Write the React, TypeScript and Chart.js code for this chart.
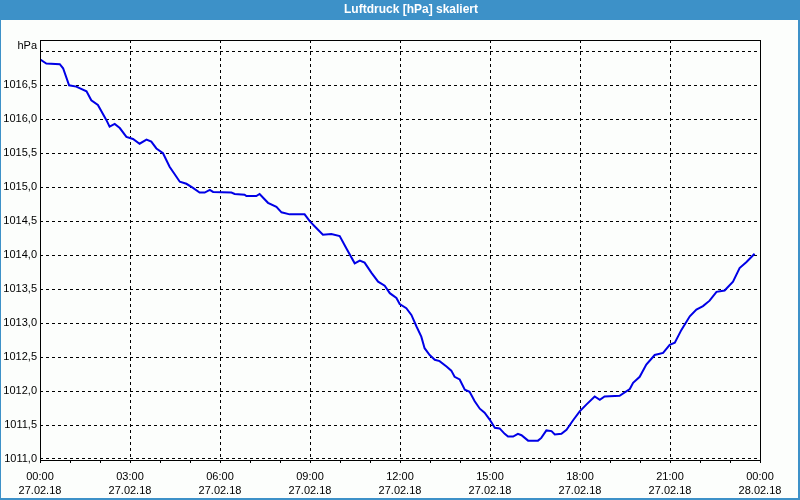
import React, { useEffect, useRef } from "react";
import { Chart, registerables } from "chart.js";

Chart.register(...registerables);

const chartTitle = "Luftdruck [hPa] skaliert";
const yUnit = "hPa";

// time in hours since 27.02.18 00:00
const hours = [
  0, 0.21, 0.66, 0.77, 0.97, 1.21, 1.55, 1.71, 1.93, 2.21, 2.32, 2.49, 2.66, 2.88,
  3.1, 3.32, 3.55, 3.71, 3.88, 4.1, 4.32, 4.66, 4.88, 5.1, 5.32, 5.49, 5.66, 5.77,
  6.38, 6.49, 6.82, 6.88, 7.21, 7.32, 7.6, 7.88, 8.05, 8.32, 8.82, 8.99, 9.21, 9.43,
  9.71, 9.99, 10.21, 10.49, 10.66, 10.82, 11.05, 11.27, 11.49, 11.66, 11.88, 11.99,
  12.21, 12.38, 12.55, 12.71, 12.82, 12.99, 13.16, 13.32, 13.55, 13.71, 13.82, 13.99,
  14.16, 14.32, 14.49, 14.66, 14.82, 14.99, 15.16, 15.32, 15.49, 15.6, 15.77, 15.93,
  16.05, 16.27, 16.6, 16.71, 16.88, 17.05, 17.16, 17.38, 17.55, 17.77, 17.99, 18.21,
  18.49, 18.66, 18.82, 19.32, 19.66, 19.77, 19.99, 20.21, 20.49, 20.77, 20.99, 21.16,
  21.38, 21.66, 21.88, 22.1, 22.32, 22.55, 22.82, 23.1, 23.32, 23.55, 23.82,
];

const pressure = [
  1016.88, 1016.82, 1016.81, 1016.75, 1016.5, 1016.48, 1016.41, 1016.28, 1016.21, 1015.99,
  1015.89, 1015.93, 1015.87, 1015.74, 1015.71, 1015.64, 1015.7, 1015.67, 1015.57, 1015.5,
  1015.3, 1015.08, 1015.05, 1014.99, 1014.92, 1014.92, 1014.96, 1014.93, 1014.92, 1014.9,
  1014.89, 1014.87, 1014.87, 1014.9, 1014.77, 1014.71, 1014.63, 1014.6, 1014.6, 1014.5,
  1014.4, 1014.3, 1014.31, 1014.28, 1014.1, 1013.88, 1013.92, 1013.89, 1013.74, 1013.61,
  1013.55, 1013.44, 1013.37, 1013.28, 1013.22, 1013.12, 1012.95, 1012.8, 1012.63, 1012.53,
  1012.46, 1012.44, 1012.36, 1012.3, 1012.21, 1012.17, 1012.02, 1011.99, 1011.85, 1011.74,
  1011.68, 1011.58, 1011.46, 1011.45, 1011.37, 1011.33, 1011.33, 1011.37, 1011.35, 1011.27,
  1011.27, 1011.31, 1011.42, 1011.41, 1011.36, 1011.37, 1011.43, 1011.57, 1011.7, 1011.8,
  1011.92, 1011.87, 1011.92, 1011.93, 1012.03, 1012.12, 1012.21, 1012.39, 1012.53, 1012.56,
  1012.68, 1012.71, 1012.9, 1013.1, 1013.2, 1013.25, 1013.33, 1013.46, 1013.48, 1013.61,
  1013.81, 1013.9, 1014.02,
];

const yTicks = [1011, 1011.5, 1012, 1012.5, 1013, 1013.5, 1014, 1014.5, 1015, 1015.5, 1016, 1016.5, 1017];
const yMin = 1010.985;
const yMax = 1017.166;

const xTickHours = [0, 3, 6, 9, 12, 15, 18, 21, 24];
const xTickTimes = ["00:00", "03:00", "06:00", "09:00", "12:00", "15:00", "18:00", "21:00", "00:00"];
const xTickDates = ["27.02.18", "27.02.18", "27.02.18", "27.02.18", "27.02.18", "27.02.18", "27.02.18", "27.02.18", "28.02.18"];
const xMinorHours = Array.from({ length: 25 }, (_, i) => i);

const FONT = "'Liberation Sans', Arial, sans-serif";
const BG = "#fcfefc";
const BAR = "#3d91c8";

const framePlugin = {
  id: "frame",
  beforeDraw(chart: any) {
    const { ctx, width, height } = chart;
    ctx.save();
    ctx.fillStyle = BG;
    ctx.fillRect(0, 0, width, height);
    ctx.fillStyle = BAR;
    ctx.fillRect(0, 0, width, 20);
    ctx.fillRect(0, 0, 1, height);
    ctx.fillRect(width - 2, 0, 2, height);
    ctx.fillRect(0, height - 2, width, 2);
    ctx.restore();
  },
  afterDraw(chart: any) {
    const { ctx, chartArea } = chart;
    ctx.save();
    ctx.strokeStyle = "#000";
    ctx.lineWidth = 1;
    ctx.setLineDash([]);
    ctx.strokeRect(chartArea.left + 0.5, chartArea.top + 0.5, chartArea.right - chartArea.left, chartArea.bottom - chartArea.top);
    ctx.fillStyle = "#fff";
    ctx.font = `bold 12px ${FONT}`;
    ctx.textAlign = "center";
    ctx.textBaseline = "middle";
    ctx.fillText(chartTitle, 411, 10);
    ctx.fillStyle = "#000";
    ctx.font = `11px ${FONT}`;
    ctx.textAlign = "right";
    ctx.fillText(yUnit, 37, 46);
    ctx.restore();
  },
};

export default function App() {
  const ref = useRef<HTMLCanvasElement>(null);
  useEffect(() => {
    if (!ref.current) return;
    const chart = new Chart(ref.current, {
      type: "line",
      data: {
        datasets: [
          {
            data: hours.map((h, i) => ({ x: h, y: pressure[i] })),
            borderColor: "#0000e6",
            borderWidth: 2,
            pointRadius: 0,
            tension: 0,
            fill: false,
          },
        ],
      },
      options: {
        responsive: false,
        animation: false,
        events: [],
        layout: { padding: { top: 40, right: 40, left: 0, bottom: 0 } },
        plugins: { legend: { display: false }, tooltip: { enabled: false }, title: { display: false } },
        scales: {
          x: {
            type: "linear",
            min: 0,
            max: 24,
            afterBuildTicks: (scale: any) => {
              scale.ticks = xMinorHours.map((v) => ({ value: v }));
            },
            afterFit: (scale: any) => {
              scale.height = 40;
            },
            ticks: {
              autoSkip: false,
              maxRotation: 0,
              minRotation: 0,
              padding: 6,
              color: "#000",
              font: { family: FONT, size: 11, lineHeight: 1.36 },
              callback: (value: any) => {
                const i = xTickHours.indexOf(Number(value));
                return i >= 0 ? [xTickTimes[i], xTickDates[i]] : "";
              },
            },
            grid: {
              color: (c: any) => (c.tick && xTickHours.includes(c.tick.value) ? "#000" : "rgba(0,0,0,0)"),
              lineWidth: 1,
              tickColor: "#000",
              tickLength: 3,
              drawTicks: true,
            },
            border: { display: false, dash: [3, 3] },
          },
          y: {
            type: "linear",
            min: yMin,
            max: yMax,
            afterBuildTicks: (scale: any) => {
              scale.ticks = yTicks.map((v) => ({ value: v }));
            },
            afterFit: (scale: any) => {
              scale.width = 40;
            },
            ticks: {
              padding: 3,
              color: "#000",
              font: { family: FONT, size: 11 },
              callback: (value: any) => {
                const v = Number(value);
                if (v === yTicks[yTicks.length - 1]) return "";
                return v.toFixed(1).replace(".", ",");
              },
            },
            grid: { color: "#000", lineWidth: 1, drawTicks: false },
            border: { display: false, dash: [3, 3] },
          },
        },
      },
      plugins: [framePlugin],
    });
    return () => chart.destroy();
  }, []);
  return (
    <div style={{ position: "fixed", left: 0, top: 0, width: 800, height: 500 }}>
      <canvas ref={ref} width={800} height={500} style={{ display: "block", width: 800, height: 500 }} />
    </div>
  );
}
